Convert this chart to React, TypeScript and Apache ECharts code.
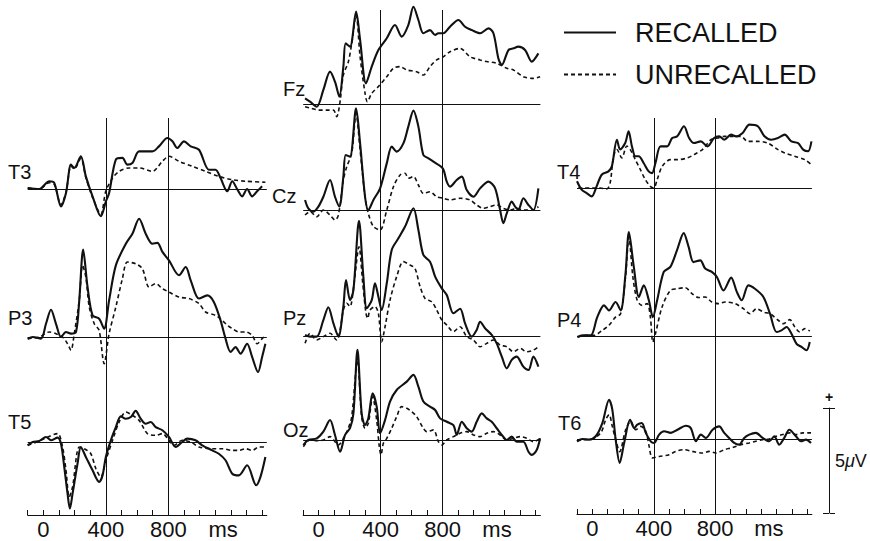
import React, { useEffect, useRef } from 'react';
import * as echarts from 'echarts';

// ---------- data (time in ms, amplitude in µV) ----------
const T_MIN = -100;
const T_MAX = 1430;
const TIME_TICKS = [-100, 0, 100, 200, 300, 400, 500, 600, 700, 800, 900, 1000, 1100, 1200, 1300, 1400];
const TIME_LABELS = [0, 400, 800];
const UNIT_LABEL_AT = 1150;
const UNIT_LABEL = 'ms';
const MARKER_TIMES = [400, 800];
const SCALE_UV = 5;
const LEGEND_NAMES = ['RECALLED', 'UNRECALLED'];

const T3_REC = [[-100,0.05],[-26,0],[38,0.37],[70,0.29],[113,-0.83],[145,-0.19],[177,1.16],[198,1.0],[240,1.56],[272,0.6],[315,-0.35],[368,-1.3],[400,-0.6],[421,-0.19],[464,1.4],[506,1.48],[538,1.16],[570,1.24],[613,1.79],[698,1.79],[740,2.03],[794,2.43],[826,2.27],[857,1.95],[900,2.27],[943,2.03],[996,1.87],[1060,0.92],[1102,0.92],[1134,0.52],[1177,-0.11],[1209,0.37],[1240,0],[1272,-0.35],[1304,0],[1336,-0.35],[1368,-0.11],[1400,0.13]];
const T3_UNR = [[-100,0.05],[-26,0],[38,0.3],[70,0.22],[113,-0.75],[145,-0.15],[177,1.1],[198,0.95],[240,1.45],[272,0.55],[315,-0.4],[368,-1.2],[400,-0.1],[443,0.52],[485,0.84],[549,1.0],[613,1.0],[698,0.84],[762,1.32],[804,1.56],[868,1.32],[953,1.08],[1038,0.84],[1123,0.6],[1209,0.44],[1294,0.37],[1421,0.32]];

const P3_REC = [[-100,-0.08],[-68,0],[-15,-0.08],[17,0.63],[49,1.3],[81,0.63],[113,0],[145,0.24],[177,0.16],[209,0.24],[230,1.75],[255,4.16],[283,2.38],[315,1.03],[357,0.87],[389,0.4],[421,1.75],[464,3.41],[528,4.44],[570,4.92],[613,5.63],[655,4.92],[698,4.44],[730,4.48],[762,4.05],[804,3.65],[868,2.94],[911,3.33],[943,2.7],[996,1.83],[1049,1.98],[1091,1.67],[1134,0.79],[1166,-0.08],[1198,-0.71],[1230,-0.48],[1262,-0.79],[1304,-0.32],[1336,-0.95],[1374,-1.67],[1400,-0.95],[1421,-0.32]];
const P3_UNR = [[-100,-0.08],[-26,0],[38,0.24],[81,0.16],[123,0],[155,-0.32],[177,-0.63],[198,0.16],[230,1.75],[251,3.41],[272,2.86],[294,1.43],[326,0.63],[357,0.32],[389,-1.27],[421,0.16],[464,1.43],[506,2.78],[538,3.57],[591,3.49],[634,3.25],[677,2.38],[719,2.54],[762,2.3],[804,2.14],[868,1.9],[932,1.83],[996,1.59],[1038,1.19],[1102,1.03],[1145,0.79],[1177,0.56],[1209,0.4],[1251,0.24],[1294,0.24],[1336,0.08],[1368,-0.32],[1400,-0.08],[1421,0.08]];

const T5_REC = [[-100,-0.16],[-68,0],[-26,0.05],[17,0.24],[49,0.08],[91,0.21],[113,-0.08],[134,-1.19],[155,-2.46],[170,-3.17],[187,-2.46],[219,-1.03],[240,-0.24],[272,-0.71],[315,-1.35],[357,-1.9],[379,-1.59],[400,-0.71],[432,0.08],[464,0.71],[496,1.22],[528,1.11],[560,1.19],[591,1.48],[623,1.11],[655,0.87],[687,0.95],[719,0.71],[762,0.56],[804,0.24],[847,-0.24],[889,0],[921,0.16],[974,0.08],[1017,-0.16],[1081,-0.4],[1123,-0.56],[1166,-0.87],[1209,-1.51],[1251,-1.59],[1304,-1.11],[1362,-2.06],[1389,-1.67],[1421,-0.71]];
const T5_UNR = [[-100,-0.16],[-26,0.05],[17,0.2],[91,0.4],[123,-0.24],[145,-1.35],[166,-2.62],[187,-2.14],[230,-0.24],[262,-0.32],[304,-0.56],[336,-1.27],[368,-1.67],[400,-0.87],[443,0.08],[485,0.95],[528,1.43],[570,1.27],[613,1.03],[666,0.4],[719,0.32],[762,0.4],[804,0.08],[836,-0.16],[889,0.08],[943,0],[996,-0.24],[1081,-0.32],[1145,-0.32],[1209,-0.4],[1251,-0.4],[1294,-0.32],[1336,-0.4],[1379,-0.24],[1421,-0.24]];

const FZ_REC = [[-88,0.27],[-56,0.11],[-13,-0.13],[30,0.67],[73,1.54],[105,1.06],[133,0.35],[159,1.78],[174,2.89],[202,2.73],[241,4.4],[267,3.05],[305,0.98],[342,1.78],[385,2.57],[439,3.13],[492,3.76],[535,3.21],[578,3.76],[611,4.63],[643,4.0],[675,3.37],[718,3.52],[751,3.29],[772,3.37],[804,3.37],[847,3.68],[901,4.0],[944,3.68],[987,3.52],[1041,3.37],[1095,3.6],[1127,3.37],[1159,2.17],[1181,1.86],[1224,2.57],[1256,2.65],[1288,2.73],[1331,2.57],[1374,2.02],[1417,2.41]];
const FZ_UNR = [[-88,-0.13],[-45,-0.21],[-2,-0.29],[52,-0.29],[95,-0.29],[116,-0.6],[138,0.13],[159,1.38],[191,2.0],[213,2.89],[241,4.24],[267,2.25],[299,0.51],[314,0.11],[342,0.51],[385,0.83],[439,1.3],[482,1.7],[525,1.78],[568,1.62],[632,1.54],[675,1.38],[718,1.78],[761,2.1],[804,2.25],[847,2.49],[912,2.65],[976,2.25],[1041,2.1],[1084,2.02],[1148,1.94],[1213,1.7],[1256,1.62],[1320,1.3],[1385,1.22],[1428,1.3]];

const CZ_REC = [[-88,0.48],[-67,0.08],[-34,-0.08],[-2,0.16],[30,0.63],[73,1.43],[105,0.63],[133,0.16],[159,1.59],[174,2.62],[202,2.54],[241,4.84],[267,3.17],[299,0.63],[320,0],[353,0.48],[396,1.03],[439,2.22],[471,3.02],[503,2.78],[546,3.17],[578,3.97],[611,4.73],[643,3.97],[675,2.62],[708,2.46],[740,2.3],[800,1.98],[826,1.35],[847,1.11],[890,1.43],[923,1.59],[955,0.95],[998,0.63],[1041,1.03],[1095,1.35],[1138,1.03],[1170,0],[1191,-0.63],[1213,-0.16],[1245,0.4],[1267,0.16],[1288,0],[1320,0.56],[1353,0.24],[1385,0],[1417,1.03]];
const CZ_UNR = [[-88,-0.24],[-56,-0.08],[-13,-0.32],[30,0],[73,-0.24],[105,-0.48],[127,-0.24],[159,1.43],[181,2.06],[213,2.7],[241,4.6],[267,2.86],[299,0.63],[320,-0.16],[353,-0.79],[396,-0.95],[439,0],[482,1.11],[525,1.67],[557,1.75],[578,1.51],[611,1.59],[643,1.19],[675,0.79],[718,0.87],[761,0.63],[804,0.56],[847,0.48],[912,0.56],[976,0.48],[1019,0.24],[1062,0.08],[1105,0.16],[1148,0.24],[1191,0.08],[1234,0],[1277,0.08],[1320,0],[1385,0],[1417,0.16]];

const PZ_REC = [[-88,0.05],[-56,-0.03],[-13,-0.03],[30,0.76],[62,1.37],[95,0.6],[127,-0.03],[159,1.4],[176,2.67],[202,1.71],[224,2.19],[260,5.49],[288,2.83],[310,1.32],[342,1.71],[363,2.51],[385,1.87],[406,1.24],[439,2.51],[471,4.1],[514,4.65],[557,5.21],[611,6.08],[643,5.05],[675,3.86],[718,3.54],[751,2.83],[794,2.27],[826,1.95],[869,1.08],[912,1.3],[944,0.6],[987,-0.03],[1019,0.29],[1041,0.68],[1073,0.37],[1116,0.05],[1148,-0.35],[1181,-0.98],[1213,-1.54],[1245,-1.14],[1277,-0.98],[1320,-1.46],[1353,-1.62],[1385,-0.98],[1417,-1.46]];
const PZ_UNR = [[-88,-0.35],[-56,0.13],[-13,-0.19],[30,-0.03],[73,0.13],[116,-0.19],[138,0.29],[159,1.24],[181,1.56],[202,1.4],[228,2.51],[260,4.25],[284,2.51],[305,1.08],[316,0.84],[331,1.24],[363,1.4],[385,1.08],[406,-0.27],[428,0.44],[460,1.71],[503,2.83],[546,3.54],[589,3.38],[621,3.22],[654,2.35],[686,1.79],[729,1.63],[761,1.24],[794,0.76],[826,0.52],[869,0.21],[912,0.44],[955,-0.03],[998,-0.19],[1041,-0.51],[1084,-0.35],[1127,-0.19],[1170,-0.43],[1213,-0.51],[1256,-0.75],[1299,-0.59],[1342,-0.75],[1385,-0.67],[1417,-0.51]];

const OZ_REC = [[-99,-0.24],[-67,0],[-13,0.08],[30,0.4],[73,0.95],[105,0.24],[138,-0.56],[170,0.24],[202,0.56],[224,1.27],[250,4.3],[277,1.27],[299,0.71],[320,1.03],[348,2.22],[374,1.59],[396,0.32],[428,0.95],[460,1.83],[503,2.38],[568,2.78],[611,3.1],[643,2.54],[675,1.83],[718,1.59],[751,1.43],[783,1.03],[826,0.87],[869,0.71],[890,0.24],[923,0.87],[955,0.56],[987,0.4],[1019,0.87],[1052,1.27],[1084,1.03],[1116,0.87],[1148,0.56],[1181,0.24],[1213,0],[1245,0.16],[1277,-0.08],[1320,-0.08],[1353,-0.56],[1374,-0.71],[1406,-0.48],[1428,0.08]];
const OZ_UNR = [[-99,-0.32],[-56,0],[-13,-0.03],[30,0],[73,0.16],[127,-0.24],[159,0.08],[191,0.56],[213,1.11],[250,3.8],[277,1.11],[299,0.56],[320,0.79],[348,2.06],[374,0.95],[391,-0.32],[402,-0.71],[417,-0.16],[439,0.08],[471,0.56],[503,1.11],[535,1.59],[568,1.51],[600,1.35],[632,1.11],[675,0.56],[697,0.4],[740,0.48],[772,-0.08],[794,-0.24],[826,0],[869,0.16],[912,0.32],[955,0.4],[998,0.24],[1041,0.16],[1084,0.32],[1127,0.4],[1170,0.24],[1213,0],[1256,0.08],[1299,0.16],[1342,0.08],[1385,-0.08],[1428,0.08]];

const T4_REC = [[-100,0.32],[-70,-0.08],[-37,-0.24],[-4,-0.4],[28,0.08],[61,0.63],[105,0.79],[127,1.03],[160,2.3],[181,1.83],[214,2.14],[236,2.7],[258,1.98],[280,1.51],[302,1.51],[334,1.19],[367,0.79],[389,0.71],[411,1.19],[444,1.98],[487,1.98],[520,2.38],[553,2.46],[597,2.94],[630,2.38],[662,2.14],[706,2.22],[750,1.98],[793,2.38],[826,2.46],[859,2.3],[903,2.54],[936,2.46],[979,2.62],[1023,3.02],[1078,2.94],[1121,2.46],[1165,2.3],[1209,2.38],[1253,2.54],[1296,2.22],[1340,2.14],[1373,1.83],[1405,1.75],[1427,2.22]];
const T4_UNR = [[-92,0],[-59,0],[-4,0],[50,0],[94,-0.05],[116,0.24],[138,1.51],[160,1.83],[192,1.43],[225,2.0],[247,1.83],[280,1.35],[313,0.87],[345,0.4],[378,0.08],[400,0],[422,0.4],[455,1.03],[509,1.35],[553,1.35],[619,1.43],[662,1.59],[717,1.83],[772,2.3],[815,2.38],[859,2.46],[914,2.46],[968,2.46],[1012,2.22],[1078,2.22],[1143,2.14],[1209,1.83],[1253,1.67],[1318,1.51],[1384,1.35],[1427,1.1]];

const P4_REC = [[-97,-0.05],[-65,0.03],[-11,0.03],[32,0.9],[76,1.46],[108,1.22],[151,1.62],[184,1.22],[216,2.97],[238,4.95],[270,3.29],[303,1.86],[335,2.41],[368,1.7],[394,0.9],[422,1.7],[465,3.05],[508,3.29],[551,4.08],[595,4.9],[627,4.24],[659,3.52],[703,3.6],[735,3.21],[778,3.05],[811,2.81],[854,2.17],[904,2.78],[941,2.1],[973,1.7],[1016,2.41],[1059,2.25],[1114,1.86],[1157,1.06],[1200,0.19],[1232,0.27],[1265,0.43],[1297,0.11],[1330,-0.37],[1362,-0.52],[1395,-0.68],[1416,-0.29]];
const P4_UNR = [[-97,-0.05],[-43,0.03],[11,0.03],[65,0.27],[108,0.51],[151,0.9],[184,1.06],[216,2.81],[238,4.71],[264,2.81],[292,1.7],[324,1.46],[357,1.54],[378,0.9],[394,-0.29],[411,0.11],[454,1.38],[508,2.17],[551,2.25],[605,2.3],[649,2.02],[692,1.83],[735,1.86],[778,1.62],[822,1.54],[865,1.62],[930,1.54],[984,1.3],[1027,1.06],[1070,1.3],[1114,1.14],[1157,1.06],[1211,0.75],[1243,0.59],[1286,0.78],[1319,0.43],[1351,0.19],[1384,0.35],[1416,0.24]];

const T6_REC = [[-100,-0.11],[-65,0],[-22,-0.03],[22,0.13],[65,0.76],[109,1.87],[130,1.4],[152,-0.03],[178,-1.14],[207,-0.19],[246,0.92],[272,0.52],[293,0.68],[322,0.76],[348,0.29],[380,-0.11],[402,-0.19],[435,0.21],[467,0.37],[511,0.29],[554,0.44],[609,0.63],[641,0.52],[674,-0.11],[707,0.21],[739,0.05],[783,0.44],[826,0.6],[859,0.29],[891,0.05],[924,-0.19],[957,-0.27],[989,0.05],[1022,0.21],[1065,0.29],[1109,0.05],[1152,-0.11],[1185,0.13],[1217,-0.27],[1250,0.05],[1283,0.44],[1326,0.13],[1359,-0.11],[1391,-0.03],[1424,-0.19]];
const T6_UNR = [[-100,-0.11],[-65,-0.03],[-22,-0.03],[54,0.29],[87,0.92],[109,1.16],[130,0.6],[152,-0.03],[178,-0.6],[217,0.44],[250,0.84],[283,0.44],[315,0.6],[348,0.37],[370,-0.35],[391,-0.9],[435,-0.83],[500,-0.75],[543,-0.59],[598,-0.51],[652,-0.59],[717,-0.67],[761,-0.59],[804,-0.67],[859,-0.51],[913,-0.41],[967,-0.27],[1022,-0.19],[1065,-0.11],[1109,-0.03],[1152,0],[1196,0.13],[1239,0.21],[1283,0.29],[1326,0.21],[1370,0.29],[1424,0.29]];

// ---------- layout ----------
const FONT = '"Liberation Sans", Arial, Helvetica, sans-serif';
const INK = '#111';
const PX_PER_UV = 21;
const Y_MIN = -3.5;
const Y_MAX = 6.5;

const COLS = [
  { left: 27.7, width: 239.1, top: 118, bottom: 515 },
  { left: 303.2, width: 237.2, top: 10, bottom: 515 },
  { left: 577.0, width: 234.9, top: 118, bottom: 514 },
];

const PANELS = [
  { name: 'T3', col: 0, base: 189, rec: T3_REC, unr: T3_UNR, lx: 8, ly: 172 },
  { name: 'P3', col: 0, base: 337, rec: P3_REC, unr: P3_UNR, lx: 8, ly: 318 },
  { name: 'T5', col: 0, base: 442, rec: T5_REC, unr: T5_UNR, lx: 8, ly: 422 },
  { name: 'Fz', col: 1, base: 104, rec: FZ_REC, unr: FZ_UNR, lx: 283, ly: 89 },
  { name: 'Cz', col: 1, base: 210, rec: CZ_REC, unr: CZ_UNR, lx: 272, ly: 196 },
  { name: 'Pz', col: 1, base: 336, rec: PZ_REC, unr: PZ_UNR, lx: 283, ly: 318 },
  { name: 'Oz', col: 1, base: 440, rec: OZ_REC, unr: OZ_UNR, lx: 283, ly: 430 },
  { name: 'T4', col: 2, base: 188, rec: T4_REC, unr: T4_UNR, lx: 557, ly: 172 },
  { name: 'P4', col: 2, base: 336, rec: P4_REC, unr: P4_UNR, lx: 557, ly: 320 },
  { name: 'T6', col: 2, base: 439, rec: T6_REC, unr: T6_UNR, lx: 558, ly: 423 },
];

const SCALE_BAR = { left: 829, top: 408, height: SCALE_UV * PX_PER_UV };

function buildOption() {
  const grid: any[] = [];
  const xAxis: any[] = [];
  const yAxis: any[] = [];
  const series: any[] = [];
  const graphic: any[] = [];

  const lineMark = {
    symbol: ['none', 'none'],
    silent: true,
    animation: false,
    label: { show: false },
    emphasis: { disabled: true },
    lineStyle: { color: INK, width: 1, type: 'solid' },
  };

  COLS.forEach((c, i) => {
    grid.push({ left: c.left, width: c.width, top: c.top, height: c.bottom - c.top });
    xAxis.push({
      gridIndex: i,
      type: 'value',
      min: T_MIN,
      max: T_MAX,
      interval: 100,
      axisLine: { show: true, onZero: false, lineStyle: { color: INK, width: 1 } },
      axisTick: { show: true, inside: true, length: 5, customValues: TIME_TICKS, lineStyle: { color: INK, width: 1 } },
      axisLabel: {
        show: true,
        customValues: [...TIME_LABELS, UNIT_LABEL_AT],
        formatter: (v: number) => (v === UNIT_LABEL_AT ? UNIT_LABEL : String(v)),
        fontSize: 22,
        color: INK,
        fontFamily: FONT,
        margin: 3,
      },
      splitLine: { show: false },
    });
    yAxis.push({ gridIndex: i, type: 'value', min: 0, max: 1, show: false });
    series.push({
      type: 'line',
      xAxisIndex: i,
      yAxisIndex: i,
      data: [],
      silent: true,
      markLine: { ...lineMark, data: MARKER_TIMES.map((t) => ({ xAxis: t })) },
    });
  });

  PANELS.forEach((p, k) => {
    const gi = COLS.length + k;
    const c = COLS[p.col];
    const ymax = Math.min(Y_MAX, (p.base - 2) / PX_PER_UV);
    grid.push({
      left: c.left,
      width: c.width,
      top: p.base - ymax * PX_PER_UV,
      height: (ymax - Y_MIN) * PX_PER_UV,
    });
    xAxis.push({ gridIndex: gi, type: 'value', min: T_MIN, max: T_MAX, show: false });
    yAxis.push({ gridIndex: gi, type: 'value', min: Y_MIN, max: ymax, show: false });
    series.push({
      name: LEGEND_NAMES[0],
      type: 'line',
      xAxisIndex: gi,
      yAxisIndex: gi,
      data: p.rec,
      smooth: 0.3,
      symbol: 'none',
      showSymbol: false,
      clip: false,
      silent: true,
      itemStyle: { color: INK },
      lineStyle: { color: INK, width: 2.1 },
      markLine: { ...lineMark, data: [{ yAxis: 0 }] },
    });
    series.push({
      name: LEGEND_NAMES[1],
      type: 'line',
      xAxisIndex: gi,
      yAxisIndex: gi,
      data: p.unr,
      smooth: 0.3,
      symbol: 'none',
      showSymbol: false,
      clip: false,
      silent: true,
      itemStyle: { color: INK },
      lineStyle: { color: INK, width: 1.6, type: [4, 3] },
    });
    graphic.push({
      type: 'text',
      x: p.lx,
      y: p.ly,
      silent: true,
      style: { text: p.name, fill: INK, fontSize: 20, fontFamily: FONT, verticalAlign: 'middle', align: 'left' },
    });
  });

  // scale bar (5 µV) drawn as a pair of value axes
  const sg = grid.length;
  grid.push({ left: SCALE_BAR.left, width: 1, top: SCALE_BAR.top, height: SCALE_BAR.height });
  xAxis.push({ gridIndex: sg, type: 'value', min: 0, max: 1, show: false });
  yAxis.push({
    gridIndex: sg,
    type: 'value',
    min: 0,
    max: SCALE_UV,
    interval: SCALE_UV,
    position: 'left',
    axisLine: { show: true, lineStyle: { color: INK, width: 1 } },
    axisTick: { show: true, inside: false, length: 6, lineStyle: { color: INK, width: 1 } },
    axisLabel: { show: false },
    splitLine: { show: false },
    name: '+',
    nameLocation: 'end',
    nameGap: 4,
    nameTextStyle: { fontSize: 14, color: INK, fontFamily: FONT, fontWeight: 'bold' },
  });
  yAxis.push({
    gridIndex: sg,
    type: 'value',
    min: 0,
    max: SCALE_UV,
    interval: SCALE_UV,
    position: 'right',
    axisLine: { show: false },
    axisTick: { show: true, inside: false, length: 5, lineStyle: { color: INK, width: 1 } },
    axisLabel: { show: false },
    splitLine: { show: false },
    name: SCALE_UV + '{i|μ}V',
    nameLocation: 'middle',
    nameRotate: 0,
    nameGap: 5,
    nameTextStyle: {
      fontSize: 18,
      color: INK,
      fontFamily: FONT,
      align: 'left',
      rich: { i: { fontSize: 18, fontStyle: 'italic', fontFamily: FONT, color: INK } },
    },
  });

  return {
    animation: false,
    backgroundColor: '#ffffff',
    legend: {
      show: true,
      data: LEGEND_NAMES,
      orient: 'vertical',
      left: 558,
      top: 14,
      itemWidth: 52,
      itemHeight: 26,
      itemGap: 15,
      selectedMode: false,
      itemStyle: { opacity: 0 },
      textStyle: { fontSize: 27, color: INK, fontFamily: FONT, padding: [0, 0, 0, 14] },
    },
    grid,
    xAxis,
    yAxis,
    series,
    graphic,
  };
}

export default function App() {
  const ref = useRef<HTMLDivElement>(null);
  useEffect(() => {
    if (!ref.current) return;
    const chart = echarts.init(ref.current, undefined, { renderer: 'svg' });
    chart.setOption(buildOption() as any);
    return () => chart.dispose();
  }, []);
  return (
    <div
      ref={ref}
      style={{ position: 'fixed', left: 0, top: 0, width: 870, height: 541, background: '#fff' }}
    />
  );
}
